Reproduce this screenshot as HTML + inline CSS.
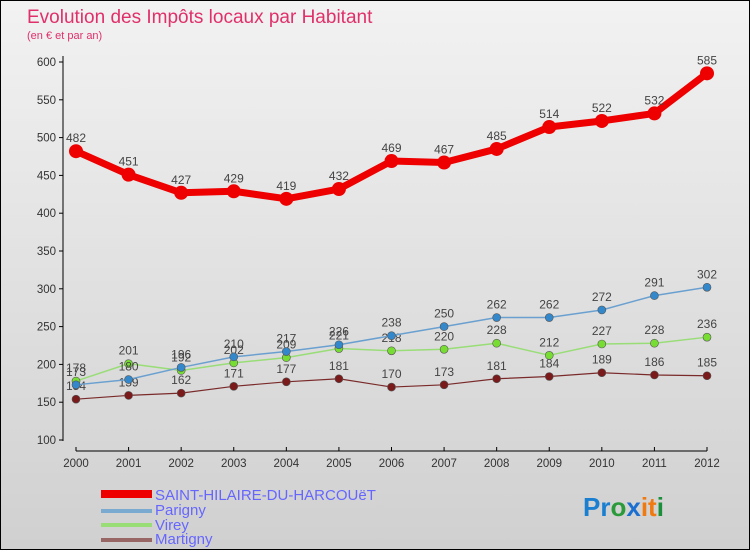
<!DOCTYPE html>
<html><head><meta charset="utf-8"><style>
body{margin:0}
#c{width:748px;height:548px;border:1px solid #000;background:linear-gradient(#f2f2f2,#d0d0d0);position:relative;font-family:"Liberation Sans",sans-serif;overflow:hidden}
</style></head><body>
<div id="c">
<svg id="s" width="748" height="548" style="position:absolute;left:0;top:0" font-family="Liberation Sans, sans-serif">
<text x="26" y="22" font-size="19" fill="#e0306a">Evolution des Impôts locaux par Habitant</text>
<text x="26" y="38" font-size="11" fill="#e0306a">(en € et par an)</text>
<g id="axes"></g><g id="series"></g>
<g>
<rect x="100" y="489" width="51" height="8" fill="#e00"/>
<text x="154" y="499" font-size="15" fill="#6666ff">SAINT-HILAIRE-DU-HARCOUëT</text>
<rect x="100" y="508" width="51" height="4" fill="#7aaad0"/>
<text x="154" y="514" font-size="15" fill="#6666ff">Parigny</text>
<rect x="100" y="522" width="51" height="4" fill="#99dd77"/>
<text x="154" y="529" font-size="15" fill="#6666ff">Virey</text>
<rect x="100" y="537" width="51" height="4" fill="#996666"/>
<text x="154" y="543" font-size="15" fill="#6666ff">Martigny</text>
</g>
<text x="582" y="515" font-size="26" font-weight="bold"><tspan fill="#1a7fd0">Pr</tspan><tspan fill="#2a9a3a">o</tspan><tspan fill="#1a6fd0">x</tspan><tspan fill="#f07a10">it</tspan><tspan fill="#1a8f3a">i</tspan></text>
</svg></div>
<script>
const years=[2000,2001,2002,2003,2004,2005,2006,2007,2008,2009,2010,2011,2012];
const sh=[482,451,427,429,419,432,469,467,485,514,522,532,585];
const parigny=[173,180,196,210,217,226,238,250,262,262,272,291,302];
const virey=[178,201,192,202,209,221,218,220,228,212,227,228,236];
const martigny=[154,159,162,171,177,181,170,173,181,184,189,186,185];
const yTicks=[100,150,200,250,300,350,400,450,500,550,600];
const NS="http://www.w3.org/2000/svg";
const X=i=>75+i*(706-75)/12;
const Y=v=>439-(v-100)*(439-61)/500;
function mk(t,a,p){const e=document.createElementNS(NS,t);for(const k in a)e.setAttribute(k,a[k]);p.appendChild(e);return e;}
const ax=document.getElementById('axes');
const yl=mk('line',{x1:62,y1:55,x2:62,y2:440,stroke:'#000'},ax);


yTicks.forEach(v=>{
 mk('line',{x1:58,y1:Y(v),x2:62,y2:Y(v),stroke:'#000'},ax);
 const t=mk('text',{x:55,y:Y(v)+4,'font-size':11.5,'text-anchor':'end',fill:'#333'},ax);t.textContent=v;
 
 
});
const xl=mk('line',{x1:75,y1:450,x2:706,y2:450,stroke:'#000'},ax);


years.forEach((y,i)=>{
 mk('line',{x1:X(i),y1:446,x2:X(i),y2:450,stroke:'#000'},ax);
 const t=mk('text',{x:X(i),y:466,'font-size':11.5,'text-anchor':'middle',fill:'#333'},ax);t.textContent=y;
 
 
});
const sg=document.getElementById('series');
function draw(data,name,color,w,r,fill){
 const g=mk('g',{},sg);
 
 
 mk('polyline',{points:data.map((v,i)=>X(i)+','+Y(v)).join(' '),fill:'none',stroke:color,'stroke-width':w,'stroke-linejoin':'round'},g);
 data.forEach((v,i)=>{
  const c=mk('circle',{cx:X(i),cy:Y(v),r:r,fill:fill,stroke:'#555','stroke-width':r>4?0:0.6},g);
  
  
  const t=mk('text',{x:X(i),y:Y(v)-9,'font-size':12,'text-anchor':'middle',fill:'#444'},g);t.textContent=v;
  
  
 });
}
draw(martigny,'martigny','#7a2a2a',1.2,4,'#7a1a1a');
draw(virey,'virey','#99dd77',1.5,4,'#77dd33');
draw(parigny,'parigny','#6aa0d0',1.5,4,'#3388cc');
draw(sh,'sainthilaire','#ee0000',7,7,'#ee0000');
</script>
</body></html>
